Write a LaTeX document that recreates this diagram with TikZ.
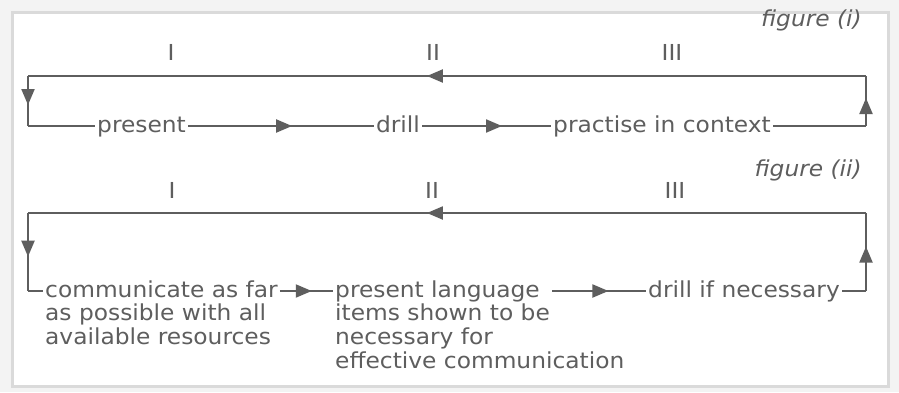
\documentclass[tikz,border=0pt]{standalone}
\usepackage{fontspec}
\setmainfont[FakeStretch=1.06]{DejaVu Sans}
\usetikzlibrary{arrows.meta,decorations.markings}
\definecolor{ink}{HTML}{5E5E5E}
\definecolor{framec}{HTML}{DADADA}
\definecolor{paper}{HTML}{F3F3F3}
\begin{document}
\begin{tikzpicture}[x=1pt,y=-1pt,
  txt/.style={font=\fontsize{22}{24}\selectfont, text=ink, inner sep=2pt, text height=17pt, text depth=5pt},
  ttl/.style={txt, font=\fontsize{22}{24}\selectfont\itshape, anchor=east},
  ln/.style={draw=ink, line width=2pt},
  midarrow/.style={postaction={decorate}, decoration={markings, mark=at position #1 with {\arrow[ink]{Triangle[length=16pt,width=13pt]}}}}
]
\useasboundingbox (0,0) rectangle (899,392);
\fill[paper] (0,0) rectangle (899,392);
\draw[framec, fill=white, line width=3pt] (12,12) rectangle (888,386);

% ---------- figure (i)
\node[ttl] (fi) at (864,20) {figure (i)};
\node[txt] (n1a) at (171,54) {I};
\node[txt] (n1b) at (433,54) {II};
\node[txt] (n1c) at (672,54) {III};
\coordinate (tl1) at (28,76);
\coordinate (tr1) at (866,76);
\coordinate (bl1) at (28,126);
\coordinate (br1) at (866,126);
\node[txt, anchor=west] (present) at (95,126) {present};
\node[txt] (drill) at (398,126) {drill};
\node[txt] (practise) at (662,126) {practise in context};
\draw[ln] (bl1) -- (present.west);
\draw[ln, midarrow=0.56] (present.east) -- (drill.west);
\draw[ln, midarrow=0.62] (drill.east) -- (practise.west);
\draw[ln] (practise.east) -- (br1);
\draw[ln, midarrow=0.56] (br1) -- (tr1);
\draw[ln, midarrow=0.524] (tr1) -- (tl1);
\draw[ln, midarrow=0.58] (tl1) -- (bl1);

% ---------- figure (ii)
\node[ttl] (fii) at (864,170) {figure (ii)};
\node[txt] (n2a) at (172,192) {I};
\node[txt] (n2b) at (432,192) {II};
\node[txt] (n2c) at (675,192) {III};
\coordinate (tl2) at (28,213);
\coordinate (tr2) at (866,213);
\coordinate (bl2) at (28,291);
\coordinate (br2) at (866,291);
\node[txt, anchor=west] (comm1) at (43,291) {communicate as far};
\node[txt, anchor=west] (comm2) at (43,314.5) {as possible with all};
\node[txt, anchor=west] (comm3) at (43,338) {available resources};
\node[txt, anchor=west] (pres1) at (333,291) {present language};
\node[txt, anchor=west] (items) at (333,314.5) {items shown to be};
\node[txt, anchor=west] (nec) at (333,338) {necessary for};
\node[txt, anchor=west] (eff) at (333,362) {effective communication};
\node[txt, anchor=west] (drill2) at (646,291) {drill if necessary};
\draw[ln] (bl2) -- (comm1.west);
\draw[ln, midarrow=0.6] (comm1.east) -- (pres1.west);
\draw[ln, midarrow=0.6] (pres1.east -| items.east) -- (drill2.west);
\draw[ln] (drill2.east) -- (br2);
\draw[ln, midarrow=0.57] (br2) -- (tr2);
\draw[ln, midarrow=0.524] (tr2) -- (tl2);
\draw[ln, midarrow=0.56] (tl2) -- (bl2);
\end{tikzpicture}
\end{document}
